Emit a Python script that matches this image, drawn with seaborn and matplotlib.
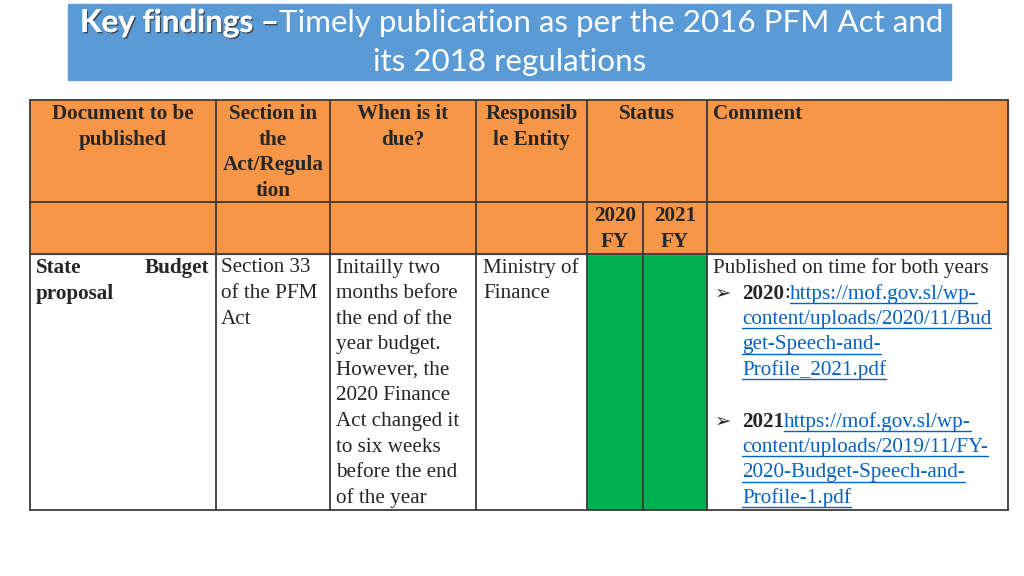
import matplotlib
matplotlib.use("Agg")
import matplotlib.pyplot as plt
from matplotlib.colors import ListedColormap
from matplotlib.patches import Rectangle
import matplotlib.patheffects as pe
import seaborn as sns
import pandas as pd

# table content
header_cols = [["Document to be", "published"],
               ["Section in", "the", "Act/Regula", "tion"],
               ["When is it", "due?"],
               ["Responsib", "le Entity"],
               ["Status"],
               ["Comment"]]
status_years = [["2020", "FY"], ["2021", "FY"]]
doc_name = ["State", "Budget", "proposal"]
section_lines = ["Section 33", "of the PFM", "Act"]
due_lines = ["Initailly two", "months before", "the end of the", "year budget.",
             "However, the", "2020 Finance", "Act changed it", "to six weeks",
             "before the end", "of the year"]
entity_lines = ["Ministry of", "Finance"]
status_values = [1, 1]  # 1 = published on time
comment_intro = "Published on time for both years"
link_2020 = ["https://mof.gov.sl/wp-", "content/uploads/2020/11/Bud",
             "get-Speech-and-", "Profile_2021.pdf"]
link_2021 = ["https://mof.gov.sl/wp-", "content/uploads/2019/11/FY-",
             "2020-Budget-Speech-and-", "Profile-1.pdf"]

ORANGE = "#F79646"
GREEN = "#00B050"
BLUE_TITLE = "#5B9BD5"
LINK = "#0563C1"
EDGE = "#3a3a3a"
SERIF = ["Liberation Serif", "DejaVu Serif"]
FS = 15.2
TFS = 22.6

sns.set_theme(style="white")
fig = plt.figure(figsize=(10.24, 5.76), dpi=100)
ax = fig.add_axes([0, 0, 1, 1])
ax.set_zorder(3)
ax.set_xlim(0, 1024)
ax.set_ylim(576, 0)
ax.axis("off")
inv = ax.transData.inverted()

# title banner
ax.add_patch(Rectangle((68, 4), 883, 76, color=BLUE_TITLE, zorder=1))
t1 = ax.text(80, 23, "Key findings –", family="Lato", weight="bold", fontsize=TFS,
             color="white", va="center", ha="left", zorder=3,
             path_effects=[pe.withSimplePatchShadow(offset=(1, -1), shadow_rgbFace="#333333", alpha=0.8),
                           pe.Normal()])
fig.canvas.draw()
x_data = inv.transform((t1.get_window_extent().x1, 0))[0]
ax.text(x_data, 23, "Timely publication as per the 2016 PFM Act and", family="Lato",
        fontsize=TFS, color="white", va="center", ha="left", zorder=3)
ax.text(510, 62, "its 2018 regulations", family="Lato", fontsize=TFS, color="white",
        va="center", ha="center", zorder=3)

# table geometry
xs = [30, 216, 330, 476, 587, 643, 707, 1008]
ys = [100, 202, 254, 510]

ax.add_patch(Rectangle((xs[0], ys[0]), xs[-1] - xs[0], ys[2] - ys[0], color=ORANGE, zorder=1))

for y in ys:
    ax.plot([xs[0], xs[-1]], [y, y], color=EDGE, lw=1.3, zorder=2)
for i, x in enumerate(xs):
    y0 = ys[1] if i == 5 else ys[0]
    ax.plot([x, x], [y0, ys[3]], color=EDGE, lw=1.3, zorder=2)

# header text
line_h = 25.6
centers = [(xs[0] + xs[1]) / 2, (xs[1] + xs[2]) / 2, (xs[2] + xs[3]) / 2,
           (xs[3] + xs[4]) / 2, (xs[4] + xs[6]) / 2]
for cx, lines in zip(centers, header_cols[:5]):
    for k, s in enumerate(lines):
        ax.text(cx, 114 + k * line_h, s, family=SERIF, weight="bold", fontsize=FS,
                ha="center", va="center", zorder=3)
ax.text(713, 114, header_cols[5][0], family=SERIF, weight="bold", fontsize=FS,
        ha="left", va="center", zorder=3)
for cx, lines in zip([(xs[4] + xs[5]) / 2, (xs[5] + xs[6]) / 2], status_years):
    for k, s in enumerate(lines):
        ax.text(cx, 216 + k * line_h, s, family=SERIF, weight="bold", fontsize=FS,
                ha="center", va="center", zorder=3)

# body row
y0 = 268
ax.text(36, y0, doc_name[0], family=SERIF, weight="bold", fontsize=FS, ha="left", va="center")
ax.text(209, y0, doc_name[1], family=SERIF, weight="bold", fontsize=FS, ha="right", va="center")
ax.text(36, y0 + line_h, doc_name[2], family=SERIF, weight="bold", fontsize=FS, ha="left", va="center")
for k, s in enumerate(section_lines):
    ax.text(221, y0 + k * line_h, s, family=SERIF, fontsize=FS, ha="left", va="center")
for k, s in enumerate(due_lines):
    ax.text(336, y0 + k * line_h, s, family=SERIF, fontsize=FS, ha="left", va="center")
for k, s in enumerate(entity_lines):
    ax.text(483, y0 + k * line_h, s, family=SERIF, fontsize=FS, ha="left", va="center")

# status cells as heatmaps, one per fiscal year
for j, v in enumerate(status_values):
    hax = fig.add_axes([xs[4 + j] / 1024, (576 - ys[3]) / 576,
                        (xs[5 + j] - xs[4 + j]) / 1024, (ys[3] - ys[2]) / 576])
    hax.set_zorder(1)
    sns.heatmap(pd.DataFrame([[v]]), cmap=ListedColormap([GREEN]), cbar=False,
                linewidths=0, ax=hax, xticklabels=False, yticklabels=False)

# comment column
link_texts = []
ax.text(713, y0, comment_intro, family=SERIF, fontsize=FS, ha="left", va="center")
ax.text(715, y0 + line_h, "➢", family=["DejaVu Sans"], fontsize=14, ha="left", va="center")
lbl = ax.text(742, y0 + line_h, "2020", family=SERIF, weight="bold", fontsize=FS, ha="left", va="center")
fig.canvas.draw()
xe = inv.transform((lbl.get_window_extent().x1, 0))[0]
colon = ax.text(xe, y0 + line_h, ":", family=SERIF, fontsize=FS, ha="left", va="center")
fig.canvas.draw()
xe = inv.transform((colon.get_window_extent().x1, 0))[0]
for k, s in enumerate(link_2020):
    link_texts.append(ax.text(xe if k == 0 else 742, y0 + (1 + k) * line_h, s, family=SERIF,
                              fontsize=FS, color=LINK, ha="left", va="center"))

yb = y0 + 6 * line_h
ax.text(715, yb, "➢", family=["DejaVu Sans"], fontsize=14, ha="left", va="center")
lbl = ax.text(742, yb, "2021", family=SERIF, weight="bold", fontsize=FS, ha="left", va="center")
fig.canvas.draw()
xe = inv.transform((lbl.get_window_extent().x1, 0))[0]
for k, s in enumerate(link_2021):
    link_texts.append(ax.text(xe if k == 0 else 742, yb + k * line_h, s, family=SERIF,
                              fontsize=FS, color=LINK, ha="left", va="center"))

# underline links
fig.canvas.draw()
for t in link_texts:
    e = t.get_window_extent()
    xa = inv.transform((e.x0, 0))[0]
    xb = inv.transform((e.x1, 0))[0]
    _, yy = t.get_position()
    ax.plot([xa, xb], [yy + 9, yy + 9], color=LINK, lw=1.0)

fig.savefig("out.png", dpi=100)
